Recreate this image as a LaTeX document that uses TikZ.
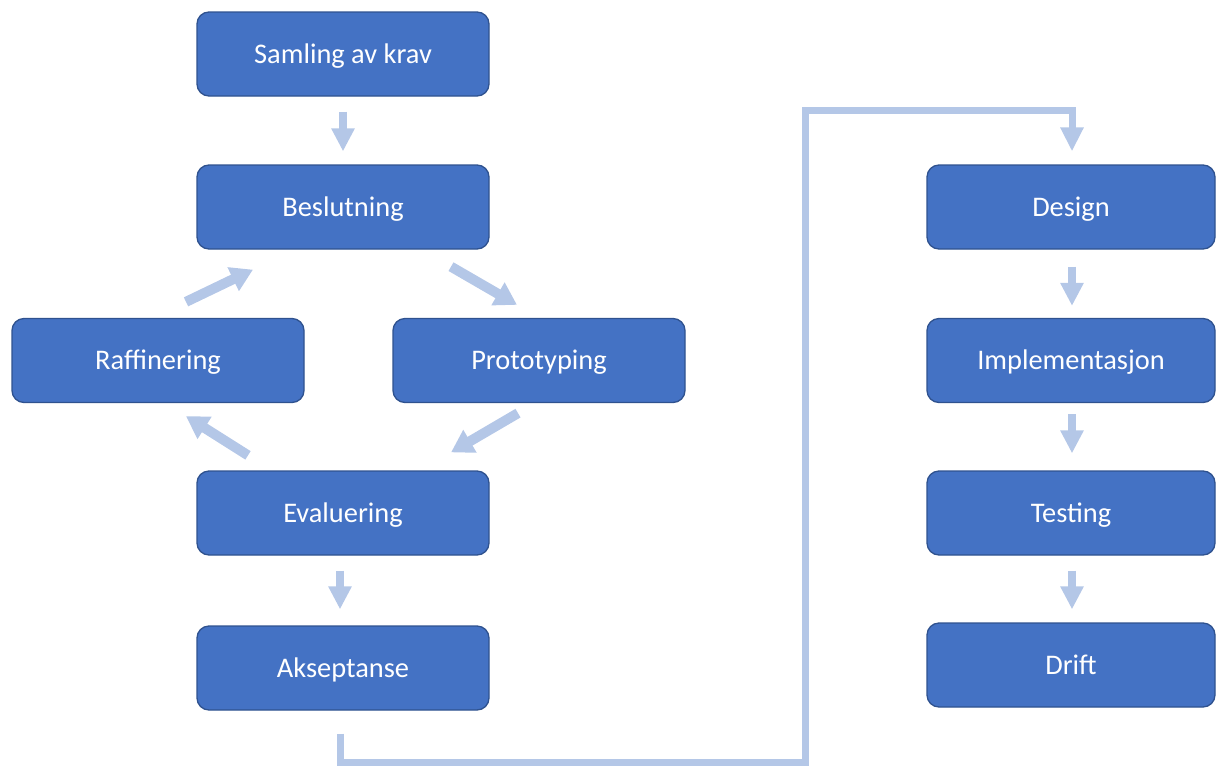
\documentclass[tikz,border=0pt]{standalone}
\usepackage{fontspec}
\setmainfont{Carlito}
\usetikzlibrary{arrows.meta,calc}
\definecolor{boxfill}{HTML}{4472C4}
\definecolor{boxedge}{HTML}{2F528F}
\definecolor{arrowblue}{HTML}{B4C7E7}
\tikzset{
  stage/.style={draw=boxedge, line width=1.3pt, fill=boxfill, rounded corners=12pt,
    minimum width=292pt, minimum height=84pt, inner sep=0pt,
    text height=20pt, text depth=2pt,
    text=white, font=\fontsize{28.4}{32}\selectfont},
  narrowstage/.style={stage, minimum width=288pt},
  downarrow/.style={draw=arrowblue, line width=8pt,
    -{Triangle[width=22pt,length=23pt]}},
  slantarrow/.style={draw=arrowblue, line width=10pt,
    -{Triangle[width=25pt,length=22pt]}},
  linkarrow/.style={draw=arrowblue, line width=7pt, line join=miter,
    -{Triangle[width=22pt,length=24pt]}}
}
\begin{document}
\begin{tikzpicture}[x=1pt,y=-1pt]
\useasboundingbox (0,0) rectangle (1216,766);

% requirement and prototyping loop
\node[stage] (sam) at (343,54)    {Samling av krav};
\node[stage] (bes) at (343,207)   {Beslutning};
\node[stage] (raf) at (158,360.5) {Raffinering};
\node[stage] (pro) at (539,360.5) {Prototyping};
\node[stage] (eva) at (343,513)   {Evaluering};
\node[stage] (aks) at (343,668)   {Akseptanse};

% development chain
\node[narrowstage] (des) at (1071,207)   {Design};
\node[narrowstage] (imp) at (1071,360.5) {Implementasjon};
\node[narrowstage] (tes) at (1071,513)   {Testing};
\node[narrowstage] (dri) at (1071,665)   {Drift};

% straight steps
\draw[downarrow] ($(sam.south)+(0,15)$) -- ($(bes.north)+(0,-13)$);
\draw[downarrow] ($(eva.south)+(-3,15)$) -- ($(aks.north)+(-3,-16)$);
\draw[downarrow] ($(des.south)+(1,17)$) -- ($(imp.north)+(1,-12)$);
\draw[downarrow] ($(imp.south)+(1,11)$) -- ($(tes.north)+(1,-17)$);
\draw[downarrow] ($(tes.south)+(1,15)$) -- ($(dri.north)+(1,-13)$);

% loop arrows
\draw[slantarrow] ($(bes.south)+(108,17)$) -- ($(pro.north)+(-22,-13)$);
\draw[slantarrow] ($(pro.south)+(-21,10)$) -- ($(eva.north)+(108,-18)$);
\draw[slantarrow] ($(eva.north)+(-95,-15)$) -- ($(raf.south)+(28,13)$);
\draw[slantarrow] ($(raf.north)+(28,-16)$) -- ($(bes.south)+(-90,20)$);

% hand-over from acceptance to design
\draw[linkarrow] ($(aks.south)+(-3,23)$) -- ++(0,29) -| (805,110) -| ($(des.north)+(1,-13)$);
\end{tikzpicture}
\end{document}
